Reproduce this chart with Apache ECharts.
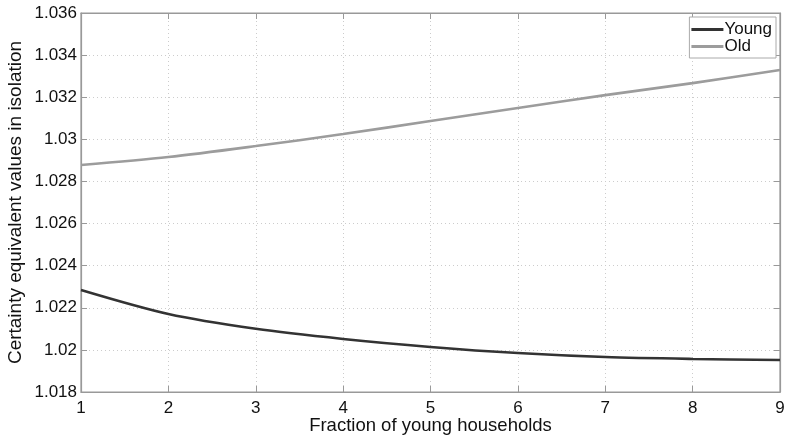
<!DOCTYPE html>
<html><head><meta charset="utf-8">
<script src="https://cdn.jsdelivr.net/npm/echarts@6/dist/echarts.min.js"></script>
<style>html,body{margin:0;padding:0;background:#fff}#c{width:787px;height:438px}</style>
</head><body><div id="c"></div>
<script>
const categories = [1, 2, 3, 4, 5, 6, 7, 8, 9];
const young = [1.02284, 1.02170, 1.02100, 1.02052, 1.02014, 1.01985, 1.01966, 1.01957, 1.01952];
const old = [1.02878, 1.02916, 1.02968, 1.03025, 1.03087, 1.03149, 1.03210, 1.03267, 1.03329];
const yTicks = [1.018, 1.02, 1.022, 1.024, 1.026, 1.028, 1.03, 1.032, 1.034, 1.036];

const font = '"Liberation Sans", Arial, sans-serif';
const axisCol = '#999';
const chart = echarts.init(document.getElementById('c'), null, {renderer: 'canvas'});
const pair = arr => categories.map((x, i) => [x, arr[i]]);
chart.setOption({
  animation: false,
  grid: {left: 81, right: 7, top: 13, bottom: 46, show: true, borderColor: axisCol, borderWidth: 1.2,
         outerBoundsMode: 'none', containLabel: false},
  legend: {
    orient: 'vertical', right: 11, top: 17, itemWidth: 32, itemHeight: 3, itemGap: 0,
    padding: [4, 4, 3, 2], borderColor: '#aaa', borderWidth: 1, backgroundColor: '#fff',
    textStyle: {fontFamily: font, fontSize: 17, color: '#111', lineHeight: 14, padding: [0, 0, 0, -4]},
    data: [{name: 'Young', icon: 'rect'}, {name: 'Old', icon: 'rect'}]
  },
  xAxis: [{
    type: 'value', min: 1, max: 9, interval: 1,
    name: 'Fraction of young households', nameLocation: 'middle', nameGap: 24, nameMoveOverlap: false,
    nameTextStyle: {fontFamily: font, fontSize: 18.5, color: '#111'},
    axisLine: {show: true, lineStyle: {color: axisCol, width: 1.2}},
    axisTick: {show: true, inside: true, length: 6, lineStyle: {color: axisCol}},
    axisLabel: {fontFamily: font, fontSize: 17, color: '#111', margin: 8},
    splitLine: {show: true, lineStyle: {color: '#ccc', type: [1, 3], width: 1}}
  }, {
    type: 'value', position: 'top', min: 1, max: 9, interval: 1,
    axisLine: {show: true, lineStyle: {color: axisCol, width: 1.2}},
    axisTick: {show: true, inside: true, length: 6, lineStyle: {color: axisCol}},
    axisLabel: {show: false}, splitLine: {show: false}
  }],
  yAxis: [{
    type: 'value', min: 1.018, max: 1.036, interval: 0.002,
    name: 'Certainty equivalent values in isolation', nameLocation: 'middle', nameGap: 56, nameMoveOverlap: false,
    nameTextStyle: {fontFamily: font, fontSize: 19, color: '#111'},
    axisLine: {show: true, lineStyle: {color: axisCol, width: 1.2}},
    axisTick: {show: true, inside: true, length: 6, lineStyle: {color: axisCol}},
    axisLabel: {fontFamily: font, fontSize: 17, color: '#111', margin: 4,
      formatter: v => { const s = String(parseFloat(v.toFixed(3))); return yTicks.some(t => Math.abs(t - v) < 1e-9) ? s : ''; }},
    splitLine: {show: true, lineStyle: {color: '#ccc', type: [1, 3], width: 1}}
  }, {
    type: 'value', position: 'right', min: 1.018, max: 1.036, interval: 0.002,
    axisLine: {show: true, lineStyle: {color: axisCol, width: 1.2}},
    axisTick: {show: true, inside: true, length: 6, lineStyle: {color: axisCol}},
    axisLabel: {show: false}, splitLine: {show: false}
  }],
  series: [
    {name: 'Young', type: 'line', data: pair(young), smooth: 0.3, showSymbol: false,
     lineStyle: {color: '#333', width: 2.6}, itemStyle: {color: '#333'}},
    {name: 'Old', type: 'line', data: pair(old), smooth: 0.3, showSymbol: false,
     lineStyle: {color: '#9c9c9c', width: 2.6}, itemStyle: {color: '#9c9c9c'}}
  ]
});
</script></body></html>
